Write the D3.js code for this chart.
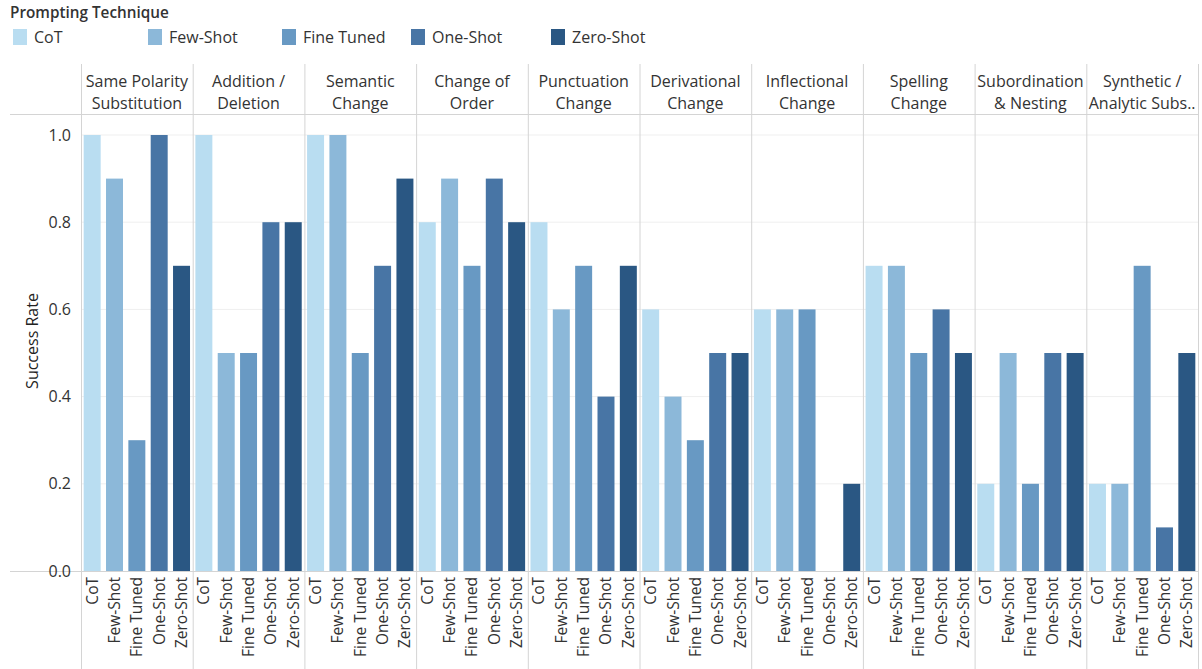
<!DOCTYPE html>
<html><head><meta charset="utf-8">
<script src="https://cdn.jsdelivr.net/npm/d3@7"></script>
<style>
body{margin:0;background:#fff;}
svg{display:block;font-family:"Open Sans","Noto Sans",sans-serif;}
</style></head>
<body><svg id="c" width="1202" height="669"></svg>
<script>
const categories = ["Same Polarity\nSubstitution","Addition /\nDeletion","Semantic\nChange","Change of\nOrder","Punctuation\nChange","Derivational\nChange","Inflectional\nChange","Spelling\nChange","Subordination\n& Nesting","Synthetic /\nAnalytic Subs.."];
const techniques = ["CoT","Few-Shot","Fine Tuned","One-Shot","Zero-Shot"];
const colors = ["#b9ddf1","#8cb8d9","#6899c3","#4875a5","#2a5783"];
const cotValues      = [1.0,1.0,1.0,0.8,0.8,0.6,0.6,0.7,0.2,0.2];
const fewShotValues  = [0.9,0.5,1.0,0.9,0.6,0.4,0.6,0.7,0.5,0.2];
const fineTunedValues= [0.3,0.5,0.5,0.7,0.7,0.3,0.6,0.5,0.2,0.7];
const oneShotValues  = [1.0,0.8,0.7,0.9,0.4,0.5,0.0,0.6,0.5,0.1];
const zeroShotValues = [0.7,0.8,0.9,0.8,0.7,0.5,0.2,0.5,0.5,0.5];
const yTicks = [0,0.2,0.4,0.6,0.8,1.0];

const series = [cotValues,fewShotValues,fineTunedValues,oneShotValues,zeroShotValues];
const svg = d3.select("#c");
const pLeft = 81, pRight = 1198, pTop = 114, pBottom = 571, headerTop = 64;
const txt = "#333";

const xOuter = d3.scaleBand().domain(d3.range(categories.length)).range([pLeft,pRight]).padding(0);
const xInner = d3.scaleBand().domain(techniques).range([0,xOuter.bandwidth()]).paddingInner(0.24).paddingOuter(0.12);
const y = d3.scaleLinear().domain([0,1]).range([pBottom,135]);
const color = d3.scaleOrdinal().domain(techniques).range(colors);

// legend
svg.append("text").attr("x",10).attr("y",18).attr("font-size",15.3).attr("font-weight",600).attr("fill",txt).text("Prompting Technique");
const legX = [13,148,282,411,551];
techniques.forEach((t,i)=>{
  svg.append("rect").attr("x",legX[i]).attr("y",29).attr("width",14).attr("height",16).attr("fill",color(t));
  svg.append("text").attr("x",legX[i]+21).attr("y",43).attr("font-size",16).attr("fill",txt).text(t);
});

// gridlines
svg.append("g").selectAll("line").data(yTicks.slice(1)).join("line")
  .attr("x1",pLeft).attr("x2",pRight).attr("y1",d=>y(d)).attr("y2",d=>y(d))
  .attr("stroke","#efefef").attr("stroke-width",1);

// bars
categories.forEach((c,ci)=>{
  const g = svg.append("g").attr("transform",`translate(${xOuter(ci)},0)`);
  g.selectAll("rect").data(techniques.map((t,ti)=>({t,v:series[ti][ci]}))).join("rect")
    .attr("x",d=>xInner(d.t)).attr("width",xInner.bandwidth())
    .attr("y",d=>y(d.v)).attr("height",d=>y(0)-y(d.v)).attr("fill",d=>color(d.t));
  g.selectAll("text.xl").data(techniques).join("text").attr("class","xl")
    .attr("transform",d=>`translate(${xInner(d)+xInner.bandwidth()/2+5.5},577) rotate(-90)`)
    .attr("text-anchor","end").attr("font-size",15.5).attr("fill",txt).text(d=>d);
  const lines = c.split("\n");
  lines.forEach((l,li)=>{
    g.append("text").attr("x",xOuter.bandwidth()/2).attr("y",87+li*22).attr("text-anchor","middle")
      .attr("font-size",16).attr("fill",txt).text(l);
  });
});

// separators
const seps = d3.range(categories.length+1).map(i=> i<categories.length? xOuter(i): pRight);
svg.append("g").selectAll("line").data(seps).join("line")
  .attr("x1",d=>d+0.5).attr("x2",d=>d+0.5).attr("y1",headerTop).attr("y2",669)
  .attr("stroke","#d4d4d4").attr("stroke-width",1);
svg.append("line").attr("x1",10).attr("x2",pRight+1).attr("y1",pTop+0.5).attr("y2",pTop+0.5).attr("stroke","#d4d4d4");
svg.append("line").attr("x1",10).attr("x2",pRight+1).attr("y1",pBottom+0.5).attr("y2",pBottom+0.5).attr("stroke","#d4d4d4");

// y axis
const yAxis = svg.append("g").attr("transform",`translate(${pLeft},0)`)
  .call(d3.axisLeft(y).tickValues(yTicks).tickFormat(d3.format(".1f")).tickSize(0).tickPadding(10));
yAxis.select(".domain").remove();
yAxis.selectAll("text").attr("font-size",16).attr("fill",txt).attr("font-family","'Open Sans','Noto Sans',sans-serif");
svg.append("text").attr("transform","translate(38,341) rotate(-90)").attr("text-anchor","middle")
  .attr("font-size",16).attr("fill","#222").text("Success Rate");
</script></body></html>
